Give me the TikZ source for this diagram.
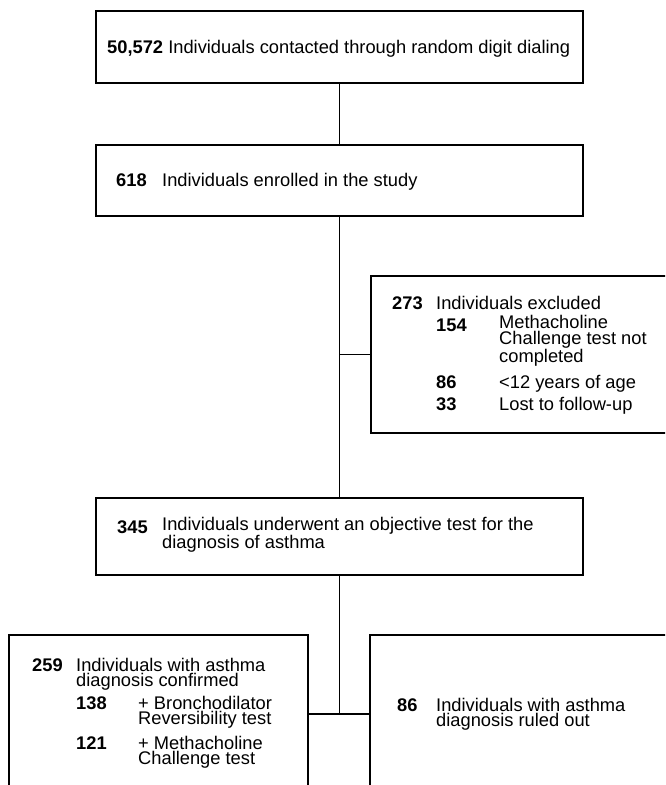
\documentclass[tikz,border=0pt]{standalone}
\usepackage{fontspec}
\setmainfont{Liberation Sans}
\begin{document}
\begin{tikzpicture}[x=1pt,y=-1pt,
  box/.style={draw=black,line width=1.5pt,rectangle,inner sep=0pt},
  conn/.style={draw=black,line width=1.5pt},
  txt/.style={anchor=base west,inner sep=0pt,align=left,font=\fontsize{18.3}{15.5}\selectfont}]
\useasboundingbox (0,0) rectangle (665,785);
\clip (0,0) rectangle (665,785);
% boxes
\node[box,minimum width=487pt,minimum height=72pt] (top) at (339.5,47) {};
\node[box,minimum width=487pt,minimum height=71pt] (enr) at (339.5,180.5) {};
\node[box,minimum width=329pt,minimum height=157pt] (exc) at (535.5,354.5) {};
\node[box,minimum width=487pt,minimum height=77pt] (obj) at (339.5,536.5) {};
\node[box,minimum width=299pt,minimum height=165pt] (conf) at (158.5,717.5) {};
\node[box,minimum width=330pt,minimum height=165pt] (out) at (535,717.5) {};
% connectors
\coordinate (j) at (339.5,714);
\draw[conn] (top.south) -- (enr.north);
\draw[conn] (enr.south) -- (obj.north);
\draw[conn] (enr.south |- exc.west) -- (exc.west);
\draw[conn] (obj.south) -- (j);
\draw[conn] (conf.east |- j) -- (out.west |- j);
% texts (base west = baseline of the last line)
\node[txt] (a1) at (107,53) {\textbf{50,572} Individuals contacted through random digit dialing};
\node[txt] (b1) at (116,186) {\textbf{618}};
\node[txt] (b2) at (162,186) {Individuals enrolled in the study};
\node[txt] (c1) at (392,309) {\textbf{273}};
\node[txt] (c2) at (436,309) {Individuals excluded};
\node[txt] (c3) at (436,331.5) {\textbf{154}};
\node[txt] (c4) at (499,362.5) {Methacholine\\Challenge test not\\completed};
\node[txt] (c7) at (436,388) {\textbf{86}};
\node[txt] (c8) at (499,388) {<12 years of age};
\node[txt] (c9) at (436,410) {\textbf{33}};
\node[txt] (c10) at (499,410) {Lost to follow-up};
\node[txt] (d1) at (117,533) {\textbf{345}};
\node[txt] (d2) at (162,548.5) {Individuals underwent an objective test for the\\diagnosis of asthma};
\node[txt] (e1) at (32,671) {\textbf{259}};
\node[txt] (e2) at (76,686.5) {Individuals with asthma\\diagnosis confirmed};
\node[txt] (e4) at (76,709) {\textbf{138}};
\node[txt] (e5) at (138,724.5) {+ Bronchodilator\\Reversibility test};
\node[txt] (e7) at (76,749) {\textbf{121}};
\node[txt] (e8) at (138,764.5) {+ Methacholine\\Challenge test};
\node[txt] (f1) at (397,711) {\textbf{86}};
\node[txt] (f2) at (436,726.5) {Individuals with asthma\\diagnosis ruled out};
\end{tikzpicture}
\end{document}
